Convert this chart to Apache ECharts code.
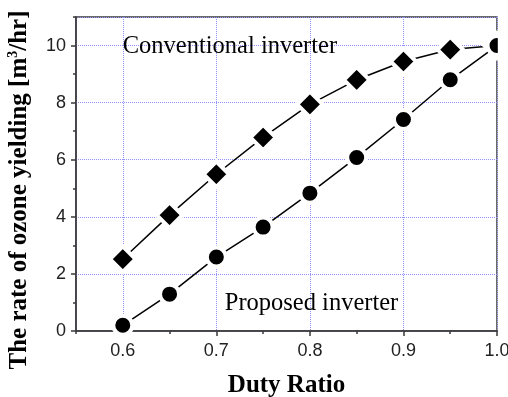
<!DOCTYPE html>
<html>
<head>
<meta charset="utf-8">
<script src="https://cdn.jsdelivr.net/npm/echarts@6/dist/echarts.min.js"></script>
<style>
html,body{margin:0;padding:0;background:#fff;}
#chart{width:508px;height:397px;}
</style>
</head>
<body>
<div id="chart"></div>
<script>
// ---- data ----
const dutyRatio = [0.6, 0.65, 0.7, 0.75, 0.8, 0.85, 0.9, 0.95, 1.0];
const conventional = [2.52, 4.06, 5.49, 6.78, 7.94, 8.8, 9.44, 9.86, 10.0];
const proposed = [0.2, 1.29, 2.59, 3.64, 4.83, 6.08, 7.41, 8.8, 10.0];
const seriesNames = ['Conventional inverter', 'Proposed inverter'];
const noteX = [0.6, 0.709];
const noteY = [9.95, 0.97];

const axisColor = '#3a3a3a';
const gridColor = '#9090ff';
const serif = 'Liberation Serif';
const sans = 'Liberation Sans';

const chart = echarts.init(document.getElementById('chart'), null, {renderer: 'canvas'});

const gridBox = {left: 76, right: 11, top: 17, bottom: 66, containLabel: false, outerBoundsMode: 'none'};

const option = {
  animation: false,
  backgroundColor: '#fff',
  grid: [
    Object.assign({show: true, borderColor: axisColor, borderWidth: 1.5, backgroundColor: 'transparent'}, gridBox),
    Object.assign({show: false}, gridBox)
  ],
  xAxis: [
    {
      type: 'value', gridIndex: 0, min: 0.55, max: 1.0,
      axisLine: {show: true, lineStyle: {color: axisColor, width: 1.5}},
      axisTick: {show: true, inside: false, length: 5, lineStyle: {color: axisColor, width: 1.5}},
      axisLabel: {show: true, fontSize: 18, fontFamily: sans, color: '#222', margin: 11,
        showMinLabel: false, formatter: v => v.toFixed(1)},
      splitLine: {show: true, lineStyle: {type: 'dotted', color: gridColor, width: 1}},
      name: 'Duty Ratio', nameLocation: 'middle', nameGap: 42,
      nameTextStyle: {fontSize: 25, fontWeight: 'bold', fontFamily: serif, color: '#000'}
    },
    {
      type: 'value', gridIndex: 1, min: 0.55, max: 1.0, interval: 0.05, position: 'bottom',
      axisLine: {show: false},
      axisTick: {show: true, length: 3, lineStyle: {color: axisColor, width: 1.5}},
      axisLabel: {show: false},
      splitLine: {show: false}
    }
  ],
  yAxis: [
    {
      type: 'value', gridIndex: 0, min: 0, max: 11, interval: 2,
      axisLine: {show: true, lineStyle: {color: axisColor, width: 1.5}},
      axisTick: {show: true, inside: false, length: 5, lineStyle: {color: axisColor, width: 1.5}},
      axisLabel: {show: true, fontSize: 18, fontFamily: sans, color: '#222', margin: 10,
        showMaxLabel: false},
      splitLine: {show: true, lineStyle: {type: 'dotted', color: gridColor, width: 1}},
      name: '{b|The rate of ozone yielding [m}{s|3}{b|/hr]}',
      nameLocation: 'middle', nameGap: 42,
      nameTextStyle: {
        padding: [0, 32, 0, 0],
        rich: {
          b: {fontSize: 25, fontWeight: 'bold', fontFamily: serif, color: '#000', lineHeight: 28},
          s: {fontSize: 14, fontWeight: 'bold', fontFamily: serif, color: '#000', lineHeight: 14, verticalAlign: 'top'}
        }
      }
    },
    {
      type: 'value', gridIndex: 1, min: 0, max: 11, interval: 1, position: 'left',
      axisLine: {show: false},
      axisTick: {show: true, length: 3, lineStyle: {color: axisColor, width: 1.5}},
      axisLabel: {show: false},
      splitLine: {show: false}
    }
  ],
  series: [
    {
      name: seriesNames[0], type: 'line', xAxisIndex: 0, yAxisIndex: 0,
      data: dutyRatio.map((x, i) => [x, conventional[i]]),
      symbol: 'diamond', symbolSize: 25.5,
      itemStyle: {color: '#000', borderColor: '#fff', borderWidth: 4},
      lineStyle: {color: '#000', width: 1.5},
      clip: false, z: 3
    },
    {
      name: seriesNames[1], type: 'line', xAxisIndex: 0, yAxisIndex: 0,
      data: dutyRatio.map((x, i) => [x, proposed[i]]),
      symbol: 'circle', symbolSize: 19,
      itemStyle: {color: '#000', borderColor: '#fff', borderWidth: 4},
      lineStyle: {color: '#000', width: 1.5},
      clip: false, z: 4
    }
  ]
};

chart.setOption(option);

// annotations and right-edge mask, positioned through the chart's own scales
const graphics = seriesNames.map((t, i) => {
  const p = chart.convertToPixel({gridIndex: 0}, [noteX[i], noteY[i]]);
  return {
    type: 'text', x: p[0], y: p[1], z: 50,
    style: {text: t, font: '24.5px "Liberation Serif"', fill: '#000', align: 'left', verticalAlign: 'middle'}
  };
});
const corner = chart.convertToPixel({gridIndex: 0}, [1.0, 0]);
graphics.push({
  type: 'rect', z: 60,
  shape: {x: corner[0] + 0.8, y: 0, width: 30, height: corner[1] - 1},
  style: {fill: '#fff'}
});
chart.setOption({graphic: graphics});
</script>
</body>
</html>
